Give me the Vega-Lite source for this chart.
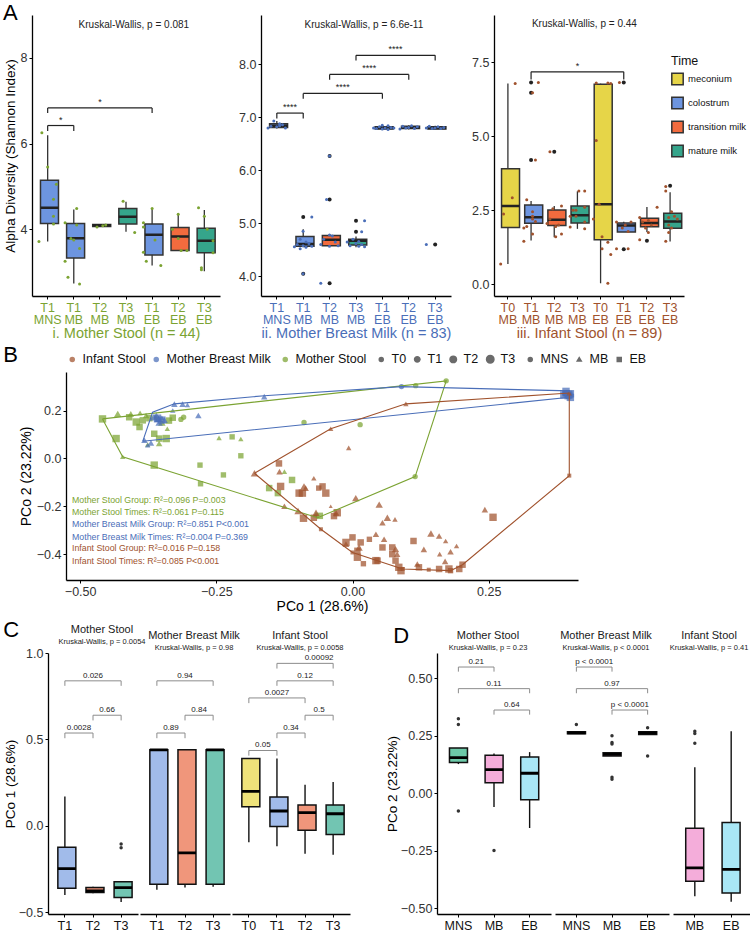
{
"$schema": "https://vega.github.io/schema/vega-lite/v6.json",
"padding": {"left": 2, "top": 2, "right": 0, "bottom": 0},
"background": "white",
"columns": 1,
"spacing": 4,
"resolve": {"scale": {"fill": "independent", "color": "independent", "shape": "independent", "size": "independent"}, "legend": {"color": "independent", "shape": "independent", "size": "independent", "fill": "independent"}},
"config": {
  "font": "Liberation Sans",
  "view": {"stroke": null},
  "axis": {"grid": false, "domainColor": "#000", "domainWidth": 1.3, "tickColor": "#000", "tickSize": 3, "labelColor": "#333", "labelFontSize": 12.5, "titleFontSize": 13.5, "titleFontWeight": "normal", "titleColor": "#000", "labelPadding": 2, "titlePadding": 3, "labelFlush": false},
  "title": {"fontSize": 11, "fontWeight": "normal", "subtitleFontSize": 7.5, "subtitlePadding": 0, "offset": 2, "color": "#1a1a1a", "subtitleColor": "#1a1a1a", "font": "Liberation Sans", "subtitleFont": "Liberation Sans"},
  "legend": {"labelFont": "Liberation Sans", "titleFont": "Liberation Sans"}
},
"datasets": {
  "abox": [
    {"p":"A1","cat":"T1 MNS","time":"colostrum","lo":3.71,"q1":4.13,"med":4.5,"q3":5.14,"hi":6.19},
    {"p":"A1","cat":"T1 MB","time":"colostrum","lo":2.73,"q1":3.33,"med":3.79,"q3":4.13,"hi":4.46},
    {"p":"A1","cat":"T2 MB","time":"transition milk","lo":4.05,"q1":4.06,"med":4.09,"q3":4.11,"hi":4.12},
    {"p":"A1","cat":"T3 MB","time":"mature milk","lo":3.94,"q1":4.12,"med":4.29,"q3":4.48,"hi":4.64},
    {"p":"A1","cat":"T1 EB","time":"colostrum","lo":3.15,"q1":3.4,"med":3.87,"q3":4.12,"hi":4.48},
    {"p":"A1","cat":"T2 EB","time":"transition milk","lo":3.5,"q1":3.5,"med":3.83,"q3":4.04,"hi":4.37},
    {"p":"A1","cat":"T3 EB","time":"mature milk","lo":3.02,"q1":3.45,"med":3.73,"q3":4.02,"hi":4.45},
    {"p":"A2","cat":"T1 MNS","time":"colostrum","lo":6.79,"q1":6.81,"med":6.84,"q3":6.88,"hi":6.93},
    {"p":"A2","cat":"T1 MB","time":"colostrum","lo":4.55,"q1":4.57,"med":4.61,"q3":4.75,"hi":4.89},
    {"p":"A2","cat":"T2 MB","time":"transition milk","lo":4.57,"q1":4.58,"med":4.69,"q3":4.77,"hi":4.8},
    {"p":"A2","cat":"T3 MB","time":"mature milk","lo":4.55,"q1":4.59,"med":4.67,"q3":4.7,"hi":4.75},
    {"p":"A2","cat":"T1 EB","time":"colostrum","lo":6.76,"q1":6.78,"med":6.8,"q3":6.82,"hi":6.85},
    {"p":"A2","cat":"T2 EB","time":"transition milk","lo":6.77,"q1":6.79,"med":6.81,"q3":6.83,"hi":6.85},
    {"p":"A2","cat":"T3 EB","time":"mature milk","lo":6.77,"q1":6.78,"med":6.8,"q3":6.82,"hi":6.84},
    {"p":"A3","cat":"T0 MB","time":"meconium","lo":0.68,"q1":1.92,"med":2.64,"q3":3.9,"hi":6.78},
    {"p":"A3","cat":"T1 MB","time":"colostrum","lo":1.48,"q1":2.06,"med":2.26,"q3":2.68,"hi":2.81},
    {"p":"A3","cat":"T2 MB","time":"transition milk","lo":1.59,"q1":1.98,"med":2.18,"q3":2.51,"hi":2.64},
    {"p":"A3","cat":"T3 MB","time":"mature milk","lo":1.87,"q1":2.07,"med":2.33,"q3":2.64,"hi":3.14},
    {"p":"A3","cat":"T0 EB","time":"meconium","lo":0.03,"q1":1.5,"med":2.7,"q3":6.76,"hi":6.78},
    {"p":"A3","cat":"T1 EB","time":"colostrum","lo":1.76,"q1":1.76,"med":1.98,"q3":2.07,"hi":2.11},
    {"p":"A3","cat":"T2 EB","time":"transition milk","lo":1.76,"q1":1.94,"med":2.07,"q3":2.23,"hi":2.61},
    {"p":"A3","cat":"T3 EB","time":"mature milk","lo":1.44,"q1":1.89,"med":2.12,"q3":2.4,"hi":3.11}
  ],
  "aout": [
    {"p":"A2","cat":"T1 MB","v":5.12},{"p":"A2","cat":"T1 MB","v":4.05},{"p":"A2","cat":"T2 MB","v":6.27},{"p":"A2","cat":"T2 MB","v":5.45},{"p":"A2","cat":"T2 MB","v":3.87},{"p":"A2","cat":"T3 MB","v":5.05},{"p":"A2","cat":"T3 MB","v":4.84},{"p":"A2","cat":"T3 EB","v":4.6},
    {"p":"A3","cat":"T1 MB","v":6.82},{"p":"A3","cat":"T1 MB","v":6.47},{"p":"A3","cat":"T1 MB","v":4.2},{"p":"A3","cat":"T2 MB","v":4.48},{"p":"A3","cat":"T1 EB","v":6.82},{"p":"A3","cat":"T1 EB","v":1.18},{"p":"A3","cat":"T2 EB","v":1.47},{"p":"A3","cat":"T3 EB","v":3.33}
  ],
  "ajit": [
    {"p":"A1","cat":"T1 MNS","v":6.25,"j":-2},{"p":"A1","cat":"T1 MNS","v":5.45,"j":0},{"p":"A1","cat":"T1 MNS","v":5.05,"j":3},{"p":"A1","cat":"T1 MNS","v":4.7,"j":2},{"p":"A1","cat":"T1 MNS","v":4.3,"j":2},{"p":"A1","cat":"T1 MNS","v":4.12,"j":2},{"p":"A1","cat":"T1 MNS","v":3.71,"j":-3},
    {"p":"A1","cat":"T1 MB","v":4.48,"j":1},{"p":"A1","cat":"T1 MB","v":4.15,"j":-3},{"p":"A1","cat":"T1 MB","v":4.1,"j":1},{"p":"A1","cat":"T1 MB","v":3.78,"j":-1},{"p":"A1","cat":"T1 MB","v":3.75,"j":0},{"p":"A1","cat":"T1 MB","v":3.55,"j":2},{"p":"A1","cat":"T1 MB","v":3.25,"j":-3},{"p":"A1","cat":"T1 MB","v":2.88,"j":-2},{"p":"A1","cat":"T1 MB","v":2.72,"j":2},
    {"p":"A1","cat":"T2 MB","v":4.05,"j":-1},{"p":"A1","cat":"T2 MB","v":4.08,"j":1},{"p":"A1","cat":"T2 MB","v":4.1,"j":2},
    {"p":"A1","cat":"T3 MB","v":4.65,"j":-1},{"p":"A1","cat":"T3 MB","v":3.92,"j":3},
    {"p":"A1","cat":"T1 EB","v":4.48,"j":0},{"p":"A1","cat":"T1 EB","v":4.15,"j":-3},{"p":"A1","cat":"T1 EB","v":4.05,"j":-3},{"p":"A1","cat":"T1 EB","v":3.75,"j":1},{"p":"A1","cat":"T1 EB","v":3.46,"j":-3},{"p":"A1","cat":"T1 EB","v":3.25,"j":-2},{"p":"A1","cat":"T1 EB","v":3.15,"j":3},
    {"p":"A1","cat":"T2 EB","v":4.35,"j":0},{"p":"A1","cat":"T2 EB","v":4.0,"j":-2},{"p":"A1","cat":"T2 EB","v":3.78,"j":0},{"p":"A1","cat":"T2 EB","v":3.5,"j":1},{"p":"A1","cat":"T2 EB","v":3.5,"j":3},
    {"p":"A1","cat":"T3 EB","v":4.5,"j":-2},{"p":"A1","cat":"T3 EB","v":4.3,"j":0},{"p":"A1","cat":"T3 EB","v":4.0,"j":1},{"p":"A1","cat":"T3 EB","v":3.73,"j":3},{"p":"A1","cat":"T3 EB","v":3.45,"j":3},{"p":"A1","cat":"T3 EB","v":3.1,"j":-1},{"p":"A1","cat":"T3 EB","v":3.05,"j":-1},
    {"p":"A2","cat":"T1 MNS","v":6.93,"j":-1},{"p":"A2","cat":"T1 MNS","v":6.88,"j":1},{"p":"A2","cat":"T1 MNS","v":6.86,"j":2},{"p":"A2","cat":"T1 MNS","v":6.83,"j":-2},{"p":"A2","cat":"T1 MNS","v":6.82,"j":0},{"p":"A2","cat":"T1 MNS","v":6.8,"j":3},{"p":"A2","cat":"T1 MNS","v":6.8,"j":-3},{"p":"A2","cat":"T1 MNS","v":6.84,"j":1},
    {"p":"A2","cat":"T1 MB","v":5.12,"j":3},{"p":"A2","cat":"T1 MB","v":4.85,"j":0},{"p":"A2","cat":"T1 MB","v":4.7,"j":-1},{"p":"A2","cat":"T1 MB","v":4.65,"j":1},{"p":"A2","cat":"T1 MB","v":4.62,"j":2},{"p":"A2","cat":"T1 MB","v":4.6,"j":-2},{"p":"A2","cat":"T1 MB","v":4.58,"j":0},{"p":"A2","cat":"T1 MB","v":4.57,"j":3},{"p":"A2","cat":"T1 MB","v":4.56,"j":-3},{"p":"A2","cat":"T1 MB","v":4.55,"j":1},{"p":"A2","cat":"T1 MB","v":4.52,"j":-1},{"p":"A2","cat":"T1 MB","v":4.05,"j":0},
    {"p":"A2","cat":"T2 MB","v":6.27,"j":0},{"p":"A2","cat":"T2 MB","v":5.45,"j":-1},{"p":"A2","cat":"T2 MB","v":4.78,"j":0},{"p":"A2","cat":"T2 MB","v":4.76,"j":1},{"p":"A2","cat":"T2 MB","v":4.7,"j":-2},{"p":"A2","cat":"T2 MB","v":4.65,"j":2},{"p":"A2","cat":"T2 MB","v":4.6,"j":-3},{"p":"A2","cat":"T2 MB","v":4.58,"j":3},{"p":"A2","cat":"T2 MB","v":4.57,"j":0},{"p":"A2","cat":"T2 MB","v":3.87,"j":-3},
    {"p":"A2","cat":"T3 MB","v":5.05,"j":3},{"p":"A2","cat":"T3 MB","v":4.84,"j":2},{"p":"A2","cat":"T3 MB","v":4.7,"j":-1},{"p":"A2","cat":"T3 MB","v":4.66,"j":1},{"p":"A2","cat":"T3 MB","v":4.65,"j":-3},{"p":"A2","cat":"T3 MB","v":4.62,"j":0},{"p":"A2","cat":"T3 MB","v":4.6,"j":2},{"p":"A2","cat":"T3 MB","v":4.58,"j":-2},{"p":"A2","cat":"T3 MB","v":4.57,"j":1},{"p":"A2","cat":"T3 MB","v":4.56,"j":3},
    {"p":"A2","cat":"T1 EB","v":6.85,"j":0},{"p":"A2","cat":"T1 EB","v":6.84,"j":2},{"p":"A2","cat":"T1 EB","v":6.82,"j":-1},{"p":"A2","cat":"T1 EB","v":6.81,"j":3},{"p":"A2","cat":"T1 EB","v":6.8,"j":-3},{"p":"A2","cat":"T1 EB","v":6.8,"j":1},{"p":"A2","cat":"T1 EB","v":6.79,"j":-2},{"p":"A2","cat":"T1 EB","v":6.78,"j":0},{"p":"A2","cat":"T1 EB","v":6.77,"j":2},{"p":"A2","cat":"T1 EB","v":6.8,"j":4},
    {"p":"A2","cat":"T2 EB","v":6.84,"j":1},{"p":"A2","cat":"T2 EB","v":6.83,"j":-2},{"p":"A2","cat":"T2 EB","v":6.82,"j":3},{"p":"A2","cat":"T2 EB","v":6.81,"j":0},{"p":"A2","cat":"T2 EB","v":6.8,"j":-1},{"p":"A2","cat":"T2 EB","v":6.79,"j":2},{"p":"A2","cat":"T2 EB","v":6.78,"j":-3},
    {"p":"A2","cat":"T3 EB","v":6.83,"j":-2},{"p":"A2","cat":"T3 EB","v":6.82,"j":1},{"p":"A2","cat":"T3 EB","v":6.81,"j":3},{"p":"A2","cat":"T3 EB","v":6.8,"j":0},{"p":"A2","cat":"T3 EB","v":6.8,"j":-3},{"p":"A2","cat":"T3 EB","v":6.79,"j":2},{"p":"A2","cat":"T3 EB","v":6.79,"j":-1},{"p":"A2","cat":"T3 EB","v":4.6,"j":-3},
    {"p":"A3","cat":"T0 MB","v":6.78,"j":2},{"p":"A3","cat":"T0 MB","v":2.92,"j":1},{"p":"A3","cat":"T0 MB","v":2.37,"j":-2},{"p":"A3","cat":"T0 MB","v":0.68,"j":-3},
    {"p":"A3","cat":"T1 MB","v":6.82,"j":2},{"p":"A3","cat":"T1 MB","v":6.47,"j":0},{"p":"A3","cat":"T1 MB","v":4.2,"j":1},{"p":"A3","cat":"T1 MB","v":2.85,"j":-2},{"p":"A3","cat":"T1 MB","v":2.45,"j":0},{"p":"A3","cat":"T1 MB","v":2.3,"j":0},{"p":"A3","cat":"T1 MB","v":2.2,"j":0},{"p":"A3","cat":"T1 MB","v":2.12,"j":1},{"p":"A3","cat":"T1 MB","v":1.95,"j":-2},{"p":"A3","cat":"T1 MB","v":1.9,"j":-3},{"p":"A3","cat":"T1 MB","v":1.7,"j":0},{"p":"A3","cat":"T1 MB","v":1.45,"j":-3},
    {"p":"A3","cat":"T2 MB","v":4.48,"j":-2},{"p":"A3","cat":"T2 MB","v":2.64,"j":2},{"p":"A3","cat":"T2 MB","v":2.55,"j":-1},{"p":"A3","cat":"T2 MB","v":2.2,"j":-2},{"p":"A3","cat":"T2 MB","v":2.05,"j":-3},{"p":"A3","cat":"T2 MB","v":2.0,"j":1},{"p":"A3","cat":"T2 MB","v":1.95,"j":0},{"p":"A3","cat":"T2 MB","v":1.7,"j":2},{"p":"A3","cat":"T2 MB","v":1.6,"j":0},
    {"p":"A3","cat":"T3 MB","v":3.15,"j":0},{"p":"A3","cat":"T3 MB","v":3.15,"j":2},{"p":"A3","cat":"T3 MB","v":2.6,"j":2},{"p":"A3","cat":"T3 MB","v":2.5,"j":-2},{"p":"A3","cat":"T3 MB","v":2.5,"j":-1},{"p":"A3","cat":"T3 MB","v":2.3,"j":-1},{"p":"A3","cat":"T3 MB","v":2.3,"j":-3},{"p":"A3","cat":"T3 MB","v":2.1,"j":2},{"p":"A3","cat":"T3 MB","v":1.93,"j":-3},{"p":"A3","cat":"T3 MB","v":1.87,"j":2},
    {"p":"A3","cat":"T0 EB","v":6.8,"j":-2},{"p":"A3","cat":"T0 EB","v":6.8,"j":2},{"p":"A3","cat":"T0 EB","v":6.78,"j":3},{"p":"A3","cat":"T0 EB","v":4.86,"j":-2},{"p":"A3","cat":"T0 EB","v":2.7,"j":-1},{"p":"A3","cat":"T0 EB","v":2.2,"j":-3},{"p":"A3","cat":"T0 EB","v":1.6,"j":0},{"p":"A3","cat":"T0 EB","v":1.42,"j":2},{"p":"A3","cat":"T0 EB","v":1.2,"j":0},{"p":"A3","cat":"T0 EB","v":1.0,"j":3},{"p":"A3","cat":"T0 EB","v":0.03,"j":2},
    {"p":"A3","cat":"T1 EB","v":6.82,"j":-2},{"p":"A3","cat":"T1 EB","v":2.1,"j":-3},{"p":"A3","cat":"T1 EB","v":2.1,"j":2},{"p":"A3","cat":"T1 EB","v":2.0,"j":0},{"p":"A3","cat":"T1 EB","v":1.9,"j":-1},{"p":"A3","cat":"T1 EB","v":1.78,"j":1},{"p":"A3","cat":"T1 EB","v":1.2,"j":-3},{"p":"A3","cat":"T1 EB","v":1.2,"j":1},
    {"p":"A3","cat":"T2 EB","v":2.6,"j":3},{"p":"A3","cat":"T2 EB","v":2.25,"j":-3},{"p":"A3","cat":"T2 EB","v":2.15,"j":0},{"p":"A3","cat":"T2 EB","v":2.1,"j":-2},{"p":"A3","cat":"T2 EB","v":2.0,"j":1},{"p":"A3","cat":"T2 EB","v":1.9,"j":-1},{"p":"A3","cat":"T2 EB","v":1.75,"j":0},{"p":"A3","cat":"T2 EB","v":1.5,"j":-3},
    {"p":"A3","cat":"T3 EB","v":3.3,"j":-2},{"p":"A3","cat":"T3 EB","v":3.15,"j":-2},{"p":"A3","cat":"T3 EB","v":2.45,"j":0},{"p":"A3","cat":"T3 EB","v":2.3,"j":1},{"p":"A3","cat":"T3 EB","v":2.25,"j":-1},{"p":"A3","cat":"T3 EB","v":2.2,"j":2},{"p":"A3","cat":"T3 EB","v":2.0,"j":-1},{"p":"A3","cat":"T3 EB","v":1.9,"j":0},{"p":"A3","cat":"T3 EB","v":1.75,"j":-1},{"p":"A3","cat":"T3 EB","v":1.45,"j":-2}
  ],
  "abr": [
    {"p":"A1","from":"T1 MNS","to":"T1 EB","y":6.83,"yb":6.71,"mid":"T2 MB","half":false,"lab":"*"},
    {"p":"A1","from":"T1 MNS","to":"T1 MB","y":6.42,"yb":6.29,"mid":"T1 MNS","half":true,"lab":"*"},
    {"p":"A2","from":"T1 MNS","to":"T1 MB","y":7.08,"yb":6.98,"mid":"T1 MNS","half":true,"lab":"****"},
    {"p":"A2","from":"T1 MB","to":"T1 EB","y":7.45,"yb":7.35,"mid":"T2 MB","half":true,"lab":"****"},
    {"p":"A2","from":"T2 MB","to":"T2 EB","y":7.81,"yb":7.71,"mid":"T3 MB","half":true,"lab":"****"},
    {"p":"A2","from":"T3 MB","to":"T3 EB","y":8.17,"yb":8.07,"mid":"T1 EB","half":true,"lab":"****"},
    {"p":"A3","from":"T1 MB","to":"T1 EB","y":7.18,"yb":6.92,"mid":"T3 MB","half":false,"lab":"*"}
  ],
  "akw": [
    {"p":"A1","cat":"T3 MB","y":8.76,"lab":"Kruskal-Wallis, p = 0.081"},
    {"p":"A2","cat":"T3 MB","y":8.74,"lab":"Kruskal-Wallis, p = 6.6e-11"},
    {"p":"A3","cat":"T3 MB","y":8.78,"lab":"Kruskal-Wallis, p = 0.44"}
  ],
  "hull": [
    {"g":"Mother Stool","o":0,"x":-0.459,"y":0.165},{"g":"Mother Stool","o":1,"x":0.172,"y":0.324},{"g":"Mother Stool","o":2,"x":0.115,"y":-0.076},{"g":"Mother Stool","o":3,"x":-0.064,"y":-0.248},{"g":"Mother Stool","o":4,"x":-0.422,"y":0.007},{"g":"Mother Stool","o":5,"x":-0.459,"y":0.165},
    {"g":"Mother Breast  Milk","o":0,"x":-0.385,"y":0.072},{"g":"Mother Breast  Milk","o":1,"x":-0.367,"y":0.193},{"g":"Mother Breast  Milk","o":2,"x":-0.327,"y":0.228},{"g":"Mother Breast  Milk","o":3,"x":-0.162,"y":0.262},{"g":"Mother Breast  Milk","o":4,"x":0.09,"y":0.3},{"g":"Mother Breast  Milk","o":5,"x":0.398,"y":0.282},{"g":"Mother Breast  Milk","o":6,"x":0.398,"y":0.255},{"g":"Mother Breast  Milk","o":7,"x":-0.385,"y":0.072},
    {"g":"Infant Stool","o":0,"x":-0.18,"y":-0.062},{"g":"Infant Stool","o":1,"x":-0.04,"y":0.124},{"g":"Infant Stool","o":2,"x":0.098,"y":0.228},{"g":"Infant Stool","o":3,"x":0.398,"y":0.273},{"g":"Infant Stool","o":4,"x":0.398,"y":-0.072},{"g":"Infant Stool","o":5,"x":0.202,"y":-0.444},{"g":"Infant Stool","o":6,"x":0.18,"y":-0.469},{"g":"Infant Stool","o":7,"x":0.092,"y":-0.462},{"g":"Infant Stool","o":8,"x":0.0,"y":-0.393},{"g":"Infant Stool","o":9,"x":-0.058,"y":-0.296},{"g":"Infant Stool","o":10,"x":-0.18,"y":-0.062}
  ],
  "pts": [
    {"g":"Mother Stool","s":"MNS","t":"T1","x":-0.315,"y":0.163},{"g":"Mother Stool","s":"MNS","t":"T1","x":-0.31,"y":0.172},{"g":"Mother Stool","s":"MNS","t":"T1","x":-0.089,"y":0.15},{"g":"Mother Stool","s":"MNS","t":"T1","x":0.014,"y":0.141},{"g":"Mother Stool","s":"MNS","t":"T1","x":0.115,"y":-0.076},{"g":"Mother Stool","s":"MNS","t":"T1","x":0.172,"y":0.324},{"g":"Mother Stool","s":"MNS","t":"T1","x":0.116,"y":0.304},
    {"g":"Mother Stool","s":"MB","t":"T3","x":-0.431,"y":0.186},{"g":"Mother Stool","s":"MB","t":"T2","x":-0.407,"y":0.186},{"g":"Mother Stool","s":"MB","t":"T2","x":-0.379,"y":0.179},{"g":"Mother Stool","s":"MB","t":"T1","x":-0.361,"y":0.172},{"g":"Mother Stool","s":"MB","t":"T1","x":-0.34,"y":0.124},{"g":"Mother Stool","s":"MB","t":"T2","x":-0.355,"y":0.062},{"g":"Mother Stool","s":"MB","t":"T1","x":-0.376,"y":0.058},{"g":"Mother Stool","s":"MB","t":"T1","x":-0.422,"y":0.007},{"g":"Mother Stool","s":"MB","t":"T1","x":-0.245,"y":0.086},{"g":"Mother Stool","s":"MB","t":"T1","x":-0.205,"y":0.081},{"g":"Mother Stool","s":"MB","t":"T1","x":-0.125,"y":-0.055},{"g":"Mother Stool","s":"MB","t":"T2","x":-0.067,"y":-0.234},{"g":"Mother Stool","s":"MB","t":"T1","x":-0.39,"y":0.19},{"g":"Mother Stool","s":"MB","t":"T3","x":-0.35,"y":0.15},
    {"g":"Mother Stool","s":"EB","t":"T3","x":-0.459,"y":0.165},{"g":"Mother Stool","s":"EB","t":"T3","x":-0.434,"y":0.083},{"g":"Mother Stool","s":"EB","t":"T2","x":-0.41,"y":0.172},{"g":"Mother Stool","s":"EB","t":"T3","x":-0.397,"y":0.152},{"g":"Mother Stool","s":"EB","t":"T2","x":-0.385,"y":0.159},{"g":"Mother Stool","s":"EB","t":"T2","x":-0.373,"y":0.168},{"g":"Mother Stool","s":"EB","t":"T2","x":-0.391,"y":0.131},{"g":"Mother Stool","s":"EB","t":"T2","x":-0.364,"y":0.103},{"g":"Mother Stool","s":"EB","t":"T3","x":-0.342,"y":0.083},{"g":"Mother Stool","s":"EB","t":"T2","x":-0.355,"y":0.083},{"g":"Mother Stool","s":"EB","t":"T2","x":-0.337,"y":0.158},{"g":"Mother Stool","s":"EB","t":"T2","x":-0.33,"y":0.17},{"g":"Mother Stool","s":"EB","t":"T3","x":-0.364,"y":-0.028},{"g":"Mother Stool","s":"EB","t":"T1","x":-0.221,"y":0.09},{"g":"Mother Stool","s":"EB","t":"T1","x":-0.205,"y":0.011},{"g":"Mother Stool","s":"EB","t":"T1","x":-0.28,"y":-0.028},{"g":"Mother Stool","s":"EB","t":"T1","x":-0.237,"y":-0.069},{"g":"Mother Stool","s":"EB","t":"T1","x":-0.279,"y":-0.106},{"g":"Mother Stool","s":"EB","t":"T2","x":-0.111,"y":-0.09},{"g":"Mother Stool","s":"EB","t":"T2","x":-0.153,"y":-0.124},{"g":"Mother Stool","s":"EB","t":"T2","x":-0.137,"y":-0.145},{"g":"Mother Stool","s":"EB","t":"T2","x":-0.06,"y":-0.24},
    {"g":"Mother Breast  Milk","s":"MB","t":"T2","x":-0.327,"y":0.227},{"g":"Mother Breast  Milk","s":"MB","t":"T2","x":-0.312,"y":0.227},{"g":"Mother Breast  Milk","s":"MB","t":"T1","x":-0.303,"y":0.223},{"g":"Mother Breast  Milk","s":"MB","t":"T2","x":-0.162,"y":0.258},{"g":"Mother Breast  Milk","s":"MB","t":"T2","x":-0.283,"y":0.179},{"g":"Mother Breast  Milk","s":"MB","t":"T3","x":-0.365,"y":0.172},{"g":"Mother Breast  Milk","s":"MB","t":"T3","x":-0.356,"y":0.165},{"g":"Mother Breast  Milk","s":"MB","t":"T2","x":-0.36,"y":0.18},{"g":"Mother Breast  Milk","s":"MB","t":"T1","x":-0.35,"y":0.17},{"g":"Mother Breast  Milk","s":"MB","t":"T2","x":-0.382,"y":0.076},{"g":"Mother Breast  Milk","s":"MB","t":"T1","x":-0.376,"y":0.055},{"g":"Mother Breast  Milk","s":"MB","t":"T2","x":-0.37,"y":0.065},{"g":"Mother Breast  Milk","s":"MB","t":"T2","x":-0.345,"y":0.16},{"g":"Mother Breast  Milk","s":"MB","t":"T3","x":-0.355,"y":0.15},{"g":"Mother Breast  Milk","s":"MB","t":"T1","x":-0.36,"y":0.16},{"g":"Mother Breast  Milk","s":"MB","t":"T1","x":-0.33,"y":0.2},
    {"g":"Mother Breast  Milk","s":"EB","t":"T3","x":-0.358,"y":0.168},{"g":"Mother Breast  Milk","s":"EB","t":"T3","x":-0.35,"y":0.16},{"g":"Mother Breast  Milk","s":"EB","t":"T1","x":0.39,"y":0.27},{"g":"Mother Breast  Milk","s":"EB","t":"T2","x":0.395,"y":0.26},{"g":"Mother Breast  Milk","s":"EB","t":"T3","x":0.4,"y":0.27},{"g":"Mother Breast  Milk","s":"EB","t":"T3","x":0.392,"y":0.28},{"g":"Mother Breast  Milk","s":"EB","t":"T2","x":0.398,"y":0.262},{"g":"Mother Breast  Milk","s":"EB","t":"T3","x":0.388,"y":0.265},{"g":"Mother Breast  Milk","s":"EB","t":"T3","x":0.4,"y":0.255},{"g":"Mother Breast  Milk","s":"EB","t":"T2","x":0.393,"y":0.272},{"g":"Mother Breast  Milk","s":"EB","t":"T3","x":0.397,"y":0.268},
    {"g":"Mother Breast  Milk","s":"MNS","t":"T1","x":0.09,"y":0.3},{"g":"Mother Breast  Milk","s":"MNS","t":"T1","x":0.392,"y":0.27},{"g":"Mother Breast  Milk","s":"MNS","t":"T1","x":0.398,"y":0.265},{"g":"Mother Breast  Milk","s":"MNS","t":"T1","x":0.395,"y":0.275},
    {"g":"Infant Stool","s":"MB","t":"T3","x":-0.18,"y":-0.062},{"g":"Infant Stool","s":"MB","t":"T1","x":-0.04,"y":0.124},{"g":"Infant Stool","s":"MB","t":"T1","x":0.098,"y":0.228},{"g":"Infant Stool","s":"MB","t":"T1","x":-0.007,"y":0.044},{"g":"Infant Stool","s":"MB","t":"T2","x":0.243,"y":-0.214},{"g":"Infant Stool","s":"MB","t":"T3","x":0.144,"y":-0.314},{"g":"Infant Stool","s":"MB","t":"T2","x":0.159,"y":-0.324},{"g":"Infant Stool","s":"MB","t":"T1","x":0.171,"y":-0.345},{"g":"Infant Stool","s":"MB","t":"T1","x":0.191,"y":-0.366},{"g":"Infant Stool","s":"MB","t":"T2","x":0.131,"y":-0.38},{"g":"Infant Stool","s":"MB","t":"T2","x":0.119,"y":-0.441},{"g":"Infant Stool","s":"MB","t":"T3","x":0.064,"y":-0.248},{"g":"Infant Stool","s":"MB","t":"T3","x":0.049,"y":-0.193},{"g":"Infant Stool","s":"MB","t":"T1","x":0.078,"y":-0.255},{"g":"Infant Stool","s":"MB","t":"T2","x":0.055,"y":-0.269},{"g":"Infant Stool","s":"MB","t":"T2","x":0.043,"y":-0.317},{"g":"Infant Stool","s":"MB","t":"T2","x":0.058,"y":-0.338},{"g":"Infant Stool","s":"MB","t":"T3","x":0.079,"y":-0.379},{"g":"Infant Stool","s":"MB","t":"T2","x":0.082,"y":-0.4},{"g":"Infant Stool","s":"MB","t":"T3","x":0.006,"y":-0.166},{"g":"Infant Stool","s":"MB","t":"T3","x":-0.067,"y":-0.227},{"g":"Infant Stool","s":"MB","t":"T1","x":-0.071,"y":-0.083},{"g":"Infant Stool","s":"MB","t":"T2","x":-0.086,"y":-0.124},{"g":"Infant Stool","s":"MB","t":"T2","x":-0.134,"y":-0.055},{"g":"Infant Stool","s":"MB","t":"T3","x":-0.089,"y":-0.117},{"g":"Infant Stool","s":"MB","t":"T2","x":-0.012,"y":-0.358},{"g":"Infant Stool","s":"MB","t":"T3","x":0.012,"y":-0.372},{"g":"Infant Stool","s":"MB","t":"T2","x":-0.03,"y":-0.228},{"g":"Infant Stool","s":"MB","t":"T2","x":0.17,"y":-0.43},{"g":"Infant Stool","s":"MB","t":"T1","x":0.16,"y":-0.4},{"g":"Infant Stool","s":"MB","t":"T2","x":0.18,"y":-0.39},{"g":"Infant Stool","s":"MB","t":"T2","x":-0.125,"y":-0.2},{"g":"Infant Stool","s":"MB","t":"T3","x":-0.1,"y":-0.22},{"g":"Infant Stool","s":"MB","t":"T1","x":0.398,"y":0.273},{"g":"Infant Stool","s":"MB","t":"T0","x":-0.04,"y":-0.2},
    {"g":"Infant Stool","s":"EB","t":"T2","x":-0.135,"y":-0.021},{"g":"Infant Stool","s":"EB","t":"T3","x":0.258,"y":-0.246},{"g":"Infant Stool","s":"EB","t":"T2","x":0.112,"y":-0.345},{"g":"Infant Stool","s":"EB","t":"T3","x":0.177,"y":-0.462},{"g":"Infant Stool","s":"EB","t":"T2","x":0.196,"y":-0.462},{"g":"Infant Stool","s":"EB","t":"T2","x":0.159,"y":-0.462},{"g":"Infant Stool","s":"EB","t":"T3","x":0.089,"y":-0.469},{"g":"Infant Stool","s":"EB","t":"T2","x":0.122,"y":-0.455},{"g":"Infant Stool","s":"EB","t":"T2","x":0.046,"y":-0.427},{"g":"Infant Stool","s":"EB","t":"T2","x":0.073,"y":-0.4},{"g":"Infant Stool","s":"EB","t":"T3","x":0.009,"y":-0.413},{"g":"Infant Stool","s":"EB","t":"T2","x":0.0,"y":-0.33},{"g":"Infant Stool","s":"EB","t":"T2","x":0.015,"y":-0.351},{"g":"Infant Stool","s":"EB","t":"T3","x":-0.012,"y":-0.351},{"g":"Infant Stool","s":"EB","t":"T2","x":0.009,"y":-0.386},{"g":"Infant Stool","s":"EB","t":"T2","x":-0.034,"y":-0.241},{"g":"Infant Stool","s":"EB","t":"T3","x":-0.028,"y":-0.227},{"g":"Infant Stool","s":"EB","t":"T2","x":-0.071,"y":-0.248},{"g":"Infant Stool","s":"EB","t":"T3","x":-0.092,"y":-0.145},{"g":"Infant Stool","s":"EB","t":"T3","x":-0.049,"y":-0.145},{"g":"Infant Stool","s":"EB","t":"T2","x":-0.055,"y":-0.117},{"g":"Infant Stool","s":"EB","t":"T3","x":-0.132,"y":-0.117},{"g":"Infant Stool","s":"EB","t":"T3","x":-0.098,"y":-0.145},{"g":"Infant Stool","s":"EB","t":"T1","x":-0.062,"y":-0.124},{"g":"Infant Stool","s":"EB","t":"T3","x":0.043,"y":-0.427},{"g":"Infant Stool","s":"EB","t":"T2","x":0.079,"y":-0.427},{"g":"Infant Stool","s":"EB","t":"T3","x":0.085,"y":-0.455},{"g":"Infant Stool","s":"EB","t":"T1","x":0.031,"y":-0.338},{"g":"Infant Stool","s":"EB","t":"T2","x":0.055,"y":-0.372},{"g":"Infant Stool","s":"EB","t":"T2","x":0.073,"y":-0.372},{"g":"Infant Stool","s":"EB","t":"T3","x":-0.09,"y":-0.25},{"g":"Infant Stool","s":"EB","t":"T1","x":0.02,"y":-0.44},{"g":"Infant Stool","s":"EB","t":"T0","x":0.398,"y":-0.072},{"g":"Infant Stool","s":"EB","t":"T0","x":0.14,"y":-0.465},{"g":"Infant Stool","s":"EB","t":"T0","x":0.0,"y":-0.393},{"g":"Infant Stool","s":"EB","t":"T0","x":-0.058,"y":-0.296},{"g":"Infant Stool","s":"EB","t":"T0","x":0.092,"y":-0.462},{"g":"Infant Stool","s":"EB","t":"T2","x":0.202,"y":-0.444},{"g":"Infant Stool","s":"EB","t":"T1","x":0.18,"y":-0.469}
  ],
  "ann": [
    {"g":"Mother Stool","x":-0.515,"y":-0.172,"lab":"Mother Stool Group: R²=0.096 P=0.003"},
    {"g":"Mother Stool","x":-0.515,"y":-0.225,"lab":"Mother Stool Times: R²=0.061 P=0.115"},
    {"g":"Mother Breast  Milk","x":-0.515,"y":-0.276,"lab":"Mother Breast Milk Group: R²=0.851 P<0.001"},
    {"g":"Mother Breast  Milk","x":-0.515,"y":-0.327,"lab":"Mother Breast Milk Times: R²=0.004 P=0.369"},
    {"g":"Infant Stool","x":-0.515,"y":-0.376,"lab":"Infant Stool Group: R²=0.016 P=0.158"},
    {"g":"Infant Stool","x":-0.515,"y":-0.427,"lab":"Infant Stool Times: R²=0.085 P<0.001"}
  ],
  "cdbox": [
    {"p":"C1","cat":"T1","lo":-0.4,"q1":-0.361,"med":-0.247,"q3":-0.124,"hi":0.17},
    {"p":"C1","cat":"T2","lo":-0.39,"q1":-0.386,"med":-0.376,"q3":-0.357,"hi":-0.352},
    {"p":"C1","cat":"T3","lo":-0.44,"q1":-0.414,"med":-0.357,"q3":-0.323,"hi":-0.323},
    {"p":"C2","cat":"T1","lo":-0.37,"q1":-0.338,"med":0.44,"q3":0.44,"hi":0.44},
    {"p":"C2","cat":"T2","lo":-0.357,"q1":-0.338,"med":-0.156,"q3":0.44,"hi":0.44},
    {"p":"C2","cat":"T3","lo":-0.352,"q1":-0.338,"med":0.44,"q3":0.44,"hi":0.44},
    {"p":"C3","cat":"T0","lo":-0.095,"q1":0.11,"med":0.2,"q3":0.39,"hi":0.39},
    {"p":"C3","cat":"T1","lo":-0.118,"q1":-0.004,"med":0.086,"q3":0.167,"hi":0.39},
    {"p":"C3","cat":"T2","lo":-0.162,"q1":-0.025,"med":0.076,"q3":0.12,"hi":0.238},
    {"p":"C3","cat":"T3","lo":-0.167,"q1":-0.05,"med":0.07,"q3":0.12,"hi":0.253},
    {"p":"D1","cat":"MNS","lo":0.127,"q1":0.134,"med":0.155,"q3":0.197,"hi":0.197},
    {"p":"D1","cat":"MB","lo":-0.06,"q1":0.046,"med":0.103,"q3":0.165,"hi":0.173},
    {"p":"D1","cat":"EB","lo":-0.151,"q1":-0.028,"med":0.087,"q3":0.158,"hi":0.179},
    {"p":"D2","cat":"MNS","lo":0.259,"q1":0.259,"med":0.263,"q3":0.268,"hi":0.268},
    {"p":"D2","cat":"MB","lo":0.162,"q1":0.162,"med":0.169,"q3":0.176,"hi":0.176},
    {"p":"D2","cat":"EB","lo":0.256,"q1":0.256,"med":0.263,"q3":0.268,"hi":0.268},
    {"p":"D3","cat":"MB","lo":-0.448,"q1":-0.383,"med":-0.324,"q3":-0.152,"hi":0.113},
    {"p":"D3","cat":"EB","lo":-0.472,"q1":-0.434,"med":-0.331,"q3":-0.127,"hi":0.27}
  ],
  "cdout": [
    {"p":"C1","cat":"T3","v":-0.105},{"p":"C1","cat":"T3","v":-0.127},
    {"p":"D1","cat":"MNS","v":0.324},{"p":"D1","cat":"MNS","v":0.299},{"p":"D1","cat":"MNS","v":-0.077},{"p":"D1","cat":"MB","v":-0.249},
    {"p":"D2","cat":"MNS","v":0.299},{"p":"D2","cat":"MB","v":0.25},{"p":"D2","cat":"MB","v":0.221},{"p":"D2","cat":"MB","v":0.214},{"p":"D2","cat":"MB","v":0.07},{"p":"D2","cat":"MB","v":0.061},{"p":"D2","cat":"EB","v":0.285},{"p":"D2","cat":"EB","v":0.162},
    {"p":"D3","cat":"MB","v":0.27},{"p":"D3","cat":"MB","v":0.26},{"p":"D3","cat":"MB","v":0.218}
  ],
  "cdbr": [
    {"p":"C1","from":"T1","to":"T3","y":0.839,"yb":0.81,"mid":"T2","half":false,"lab":"0.026"},
    {"p":"C1","from":"T2","to":"T3","y":0.64,"yb":0.61,"mid":"T2","half":true,"lab":"0.66"},
    {"p":"C1","from":"T1","to":"T2","y":0.537,"yb":0.507,"mid":"T1","half":true,"lab":"0.0028"},
    {"p":"C2","from":"T1","to":"T3","y":0.839,"yb":0.81,"mid":"T2","half":false,"lab":"0.94"},
    {"p":"C2","from":"T2","to":"T3","y":0.64,"yb":0.61,"mid":"T2","half":true,"lab":"0.84"},
    {"p":"C2","from":"T1","to":"T2","y":0.537,"yb":0.507,"mid":"T1","half":true,"lab":"0.89"},
    {"p":"C3","from":"T1","to":"T3","y":0.94,"yb":0.91,"mid":"T2","half":true,"lab":"0.00092"},
    {"p":"C3","from":"T1","to":"T3","y":0.839,"yb":0.81,"mid":"T2","half":false,"lab":"0.12"},
    {"p":"C3","from":"T0","to":"T2","y":0.74,"yb":0.71,"mid":"T1","half":false,"lab":"0.0027"},
    {"p":"C3","from":"T2","to":"T3","y":0.64,"yb":0.61,"mid":"T2","half":true,"lab":"0.5"},
    {"p":"C3","from":"T1","to":"T2","y":0.537,"yb":0.507,"mid":"T1","half":true,"lab":"0.34"},
    {"p":"C3","from":"T0","to":"T1","y":0.436,"yb":0.406,"mid":"T0","half":true,"lab":"0.05"},
    {"p":"D1","from":"MNS","to":"MB","y":0.549,"yb":0.529,"mid":"MNS","half":true,"lab":"0.21"},
    {"p":"D1","from":"MNS","to":"EB","y":0.455,"yb":0.435,"mid":"MB","half":false,"lab":"0.11"},
    {"p":"D1","from":"MB","to":"EB","y":0.362,"yb":0.342,"mid":"MB","half":true,"lab":"0.64"},
    {"p":"D2","from":"MNS","to":"MB","y":0.549,"yb":0.529,"mid":"MNS","half":true,"lab":"p < 0.0001"},
    {"p":"D2","from":"MNS","to":"EB","y":0.455,"yb":0.435,"mid":"MB","half":false,"lab":"0.97"},
    {"p":"D2","from":"MB","to":"EB","y":0.362,"yb":0.342,"mid":"MB","half":true,"lab":"p < 0.0001"}
  ]
},
"concat": [
{
  "spacing": 0,
  "resolve": {"scale": {"fill": "independent"}, "legend": {"fill": "independent"}},
  "hconcat": [
  {"width": 1, "height": 1, "data": {"values": []}, "mark": {"type": "point", "opacity": 0}},
  {
  "title": {"text": "A", "anchor": "start", "frame": "bounds", "offset": -10, "fontSize": 22, "fontWeight": "normal", "color": "#000"},
  "spacing": 18,
  "resolve": {"scale": {"fill": "independent"}, "legend": {"fill": "independent"}},
  "hconcat": [
  {
    "width": 188, "height": 281,
    "layer": [
      {"data":{"name":"abox"},"transform":[{"filter":"datum.p=='A1'"}],"mark":{"type":"rule","color":"#333","strokeWidth":1.3},
       "encoding":{"x":{"field":"cat","type":"nominal","scale":{"domain":["T1 MNS","T1 MB","T2 MB","T3 MB","T1 EB","T2 EB","T3 EB"],"paddingInner":0,"paddingOuter":0.1},"axis":{"labelExpr":"split(datum.label, ' ')","labelColor":"#7BA332","titleColor":"#7BA332","title":"i. Mother Stool  (n = 44)","labelAngle":0,"labelLineHeight":12,"labelOverlap":false,"titleFontSize":14.5,"titlePadding":1}},
         "y":{"field":"lo","type":"quantitative","scale":{"domain":[2.44,9],"nice":false,"zero":false},"axis":{"values":[4,6,8],"title":"Alpha Diversity (Shannon Index)"}},"y2":{"field":"hi"}}},
      {"data":{"name":"abox"},"transform":[{"filter":"datum.p=='A1'"}],"mark":{"type":"bar","stroke":"#333","strokeWidth":1.5,"width":{"band":0.55}},
       "encoding":{"x":{"field":"cat","type":"nominal"},"y":{"field":"q1","type":"quantitative"},"y2":{"field":"q3"},"fill":{"field":"time","type":"nominal","scale":{"domain":["meconium","colostrum","transition milk","mature milk"],"range":["#E6D548","#6D95E0","#F26B3E","#35A58B"]},"legend":null}}},
      {"data":{"name":"abox"},"transform":[{"filter":"datum.p=='A1'"}],"mark":{"type":"bar","fillOpacity":0,"stroke":"#222","strokeWidth":2.5,"width":{"band":0.55}},
       "encoding":{"x":{"field":"cat","type":"nominal"},"y":{"field":"med","type":"quantitative"},"y2":{"field":"med"}}},
      {"data":{"name":"ajit"},"transform":[{"filter":"datum.p=='A1'"}],"mark":{"type":"point","filled":true,"color":"#7BA332","size":9,"opacity":1},
       "encoding":{"x":{"field":"cat","type":"nominal"},"xOffset":{"field":"j","type":"nominal","scale":{"domain":[-4,-3,-2,-1,0,1,2,3,4]}},"y":{"field":"v","type":"quantitative"}}},
      {"data":{"name":"abr"},"transform":[{"filter":"datum.p=='A1'"}],"mark":{"type":"rule","color":"#222","strokeWidth":1.2},
       "encoding":{"x":{"field":"from","type":"nominal"},"x2":{"field":"to"},"y":{"field":"y","type":"quantitative"}}},
      {"data":{"name":"abr"},"transform":[{"filter":"datum.p=='A1'"}],"mark":{"type":"rule","color":"#222","strokeWidth":1.2},
       "encoding":{"x":{"field":"from","type":"nominal"},"y":{"field":"y","type":"quantitative"},"y2":{"field":"yb"}}},
      {"data":{"name":"abr"},"transform":[{"filter":"datum.p=='A1'"}],"mark":{"type":"rule","color":"#222","strokeWidth":1.2},
       "encoding":{"x":{"field":"to","type":"nominal"},"y":{"field":"y","type":"quantitative"},"y2":{"field":"yb"}}},
      {"data":{"name":"abr"},"transform":[{"filter":"datum.p=='A1' && !datum.half"}],"mark":{"type":"text","fontSize":9,"baseline":"bottom","dy":-1,"color":"#222"},
       "encoding":{"x":{"field":"mid","type":"nominal"},"y":{"field":"y","type":"quantitative"},"text":{"field":"lab"}}},
      {"data":{"name":"abr"},"transform":[{"filter":"datum.p=='A1' && datum.half"}],"mark":{"type":"text","fontSize":9,"baseline":"bottom","dy":-1,"color":"#222"},
       "encoding":{"x":{"field":"mid","type":"nominal","bandPosition":1},"y":{"field":"y","type":"quantitative"},"text":{"field":"lab"}}},
      {"data":{"name":"akw"},"transform":[{"filter":"datum.p=='A1'"}],"mark":{"type":"text","fontSize":10,"color":"#222"},
       "encoding":{"x":{"field":"cat","type":"nominal","bandPosition":0.8},"y":{"field":"y","type":"quantitative"},"text":{"field":"lab"}}}
    ]
  },
  {
    "width": 190, "height": 281,
    "layer": [
      {"data":{"name":"abox"},"transform":[{"filter":"datum.p=='A2'"}],"mark":{"type":"rule","color":"#333","strokeWidth":1.3},
       "encoding":{"x":{"field":"cat","type":"nominal","scale":{"domain":["T1 MNS","T1 MB","T2 MB","T3 MB","T1 EB","T2 EB","T3 EB"],"paddingInner":0,"paddingOuter":0.1},"axis":{"labelExpr":"split(datum.label, ' ')","labelColor":"#4A6EB8","titleColor":"#4A6EB8","title":"ii. Mother Breast  Milk (n = 83)","labelAngle":0,"labelLineHeight":12,"labelOverlap":false,"titleFontSize":14.5,"titlePadding":1}},
         "y":{"field":"lo","type":"quantitative","scale":{"domain":[3.63,8.93],"nice":false,"zero":false},"axis":{"values":[4,5,6,7,8],"title":null}},"y2":{"field":"hi"}}},
      {"data":{"name":"abox"},"transform":[{"filter":"datum.p=='A2'"}],"mark":{"type":"bar","stroke":"#333","strokeWidth":1.5,"width":{"band":0.55}},
       "encoding":{"x":{"field":"cat","type":"nominal"},"y":{"field":"q1","type":"quantitative"},"y2":{"field":"q3"},"fill":{"field":"time","type":"nominal","scale":{"domain":["meconium","colostrum","transition milk","mature milk"],"range":["#E6D548","#6D95E0","#F26B3E","#35A58B"]},"legend":null}}},
      {"data":{"name":"abox"},"transform":[{"filter":"datum.p=='A2'"}],"mark":{"type":"bar","fillOpacity":0,"stroke":"#222","strokeWidth":2.5,"width":{"band":0.55}},
       "encoding":{"x":{"field":"cat","type":"nominal"},"y":{"field":"med","type":"quantitative"},"y2":{"field":"med"}}},
      {"data":{"name":"aout"},"transform":[{"filter":"datum.p=='A2'"}],"mark":{"type":"point","filled":true,"color":"#222","size":16,"opacity":1},
       "encoding":{"x":{"field":"cat","type":"nominal"},"y":{"field":"v","type":"quantitative"}}},
      {"data":{"name":"ajit"},"transform":[{"filter":"datum.p=='A2'"}],"mark":{"type":"point","filled":true,"color":"#4A6EB8","size":9,"opacity":1},
       "encoding":{"x":{"field":"cat","type":"nominal"},"xOffset":{"field":"j","type":"nominal","scale":{"domain":[-4,-3,-2,-1,0,1,2,3,4]}},"y":{"field":"v","type":"quantitative"}}},
      {"data":{"name":"abr"},"transform":[{"filter":"datum.p=='A2'"}],"mark":{"type":"rule","color":"#222","strokeWidth":1.2},
       "encoding":{"x":{"field":"from","type":"nominal"},"x2":{"field":"to"},"y":{"field":"y","type":"quantitative"}}},
      {"data":{"name":"abr"},"transform":[{"filter":"datum.p=='A2'"}],"mark":{"type":"rule","color":"#222","strokeWidth":1.2},
       "encoding":{"x":{"field":"from","type":"nominal"},"y":{"field":"y","type":"quantitative"},"y2":{"field":"yb"}}},
      {"data":{"name":"abr"},"transform":[{"filter":"datum.p=='A2'"}],"mark":{"type":"rule","color":"#222","strokeWidth":1.2},
       "encoding":{"x":{"field":"to","type":"nominal"},"y":{"field":"y","type":"quantitative"},"y2":{"field":"yb"}}},
      {"data":{"name":"abr"},"transform":[{"filter":"datum.p=='A2' && datum.half"}],"mark":{"type":"text","fontSize":9,"baseline":"bottom","dy":-1,"color":"#222"},
       "encoding":{"x":{"field":"mid","type":"nominal","bandPosition":1},"y":{"field":"y","type":"quantitative"},"text":{"field":"lab"}}},
      {"data":{"name":"akw"},"transform":[{"filter":"datum.p=='A2'"}],"mark":{"type":"text","fontSize":10,"color":"#222"},
       "encoding":{"x":{"field":"cat","type":"nominal","bandPosition":0.8},"y":{"field":"y","type":"quantitative"},"text":{"field":"lab"}}}
    ]
  },
  {
    "width": 190, "height": 281,
    "layer": [
      {"data":{"name":"abox"},"transform":[{"filter":"datum.p=='A3'"}],"mark":{"type":"rule","color":"#333","strokeWidth":1.3},
       "encoding":{"x":{"field":"cat","type":"nominal","scale":{"domain":["T0 MB","T1 MB","T2 MB","T3 MB","T0 EB","T1 EB","T2 EB","T3 EB"],"paddingInner":0,"paddingOuter":0.1},"axis":{"labelExpr":"split(datum.label, ' ')","labelColor":"#A0522D","titleColor":"#A0522D","title":"iii. Infant Stool (n = 89)","labelAngle":0,"labelLineHeight":12,"labelOverlap":false,"titleFontSize":14.5,"titlePadding":1}},
         "y":{"field":"lo","type":"quantitative","scale":{"domain":[-0.4,9.1],"nice":false,"zero":false},"axis":{"values":[0,2.5,5,7.5],"format":".1f","title":null}},"y2":{"field":"hi"}}},
      {"data":{"name":"abox"},"transform":[{"filter":"datum.p=='A3'"}],"mark":{"type":"bar","stroke":"#333","strokeWidth":1.5,"width":{"band":0.55}},
       "encoding":{"x":{"field":"cat","type":"nominal"},"y":{"field":"q1","type":"quantitative"},"y2":{"field":"q3"},"fill":{"field":"time","type":"nominal","scale":{"domain":["meconium","colostrum","transition milk","mature milk"],"range":["#E6D548","#6D95E0","#F26B3E","#35A58B"]},
         "legend":{"title":"Time","orient":"none","legendX":177,"legendY":40,"symbolType":"square","symbolSize":130,"symbolStrokeColor":"#333","symbolStrokeWidth":1.5,"labelFontSize":9.5,"titleFontSize":12.5,"titleFontWeight":"normal","titleColor":"#111","labelColor":"#111","rowPadding":5,"labelOffset":4}}}},
      {"data":{"name":"abox"},"transform":[{"filter":"datum.p=='A3'"}],"mark":{"type":"bar","fillOpacity":0,"stroke":"#222","strokeWidth":2.5,"width":{"band":0.55}},
       "encoding":{"x":{"field":"cat","type":"nominal"},"y":{"field":"med","type":"quantitative"},"y2":{"field":"med"}}},
      {"data":{"name":"aout"},"transform":[{"filter":"datum.p=='A3'"}],"mark":{"type":"point","filled":true,"color":"#222","size":16,"opacity":1},
       "encoding":{"x":{"field":"cat","type":"nominal"},"y":{"field":"v","type":"quantitative"}}},
      {"data":{"name":"ajit"},"transform":[{"filter":"datum.p=='A3'"}],"mark":{"type":"point","filled":true,"color":"#A0522D","size":9,"opacity":1},
       "encoding":{"x":{"field":"cat","type":"nominal"},"xOffset":{"field":"j","type":"nominal","scale":{"domain":[-4,-3,-2,-1,0,1,2,3,4]}},"y":{"field":"v","type":"quantitative"}}},
      {"data":{"name":"abr"},"transform":[{"filter":"datum.p=='A3'"}],"mark":{"type":"rule","color":"#222","strokeWidth":1.2},
       "encoding":{"x":{"field":"from","type":"nominal"},"x2":{"field":"to"},"y":{"field":"y","type":"quantitative"}}},
      {"data":{"name":"abr"},"transform":[{"filter":"datum.p=='A3'"}],"mark":{"type":"rule","color":"#222","strokeWidth":1.2},
       "encoding":{"x":{"field":"from","type":"nominal"},"y":{"field":"y","type":"quantitative"},"y2":{"field":"yb"}}},
      {"data":{"name":"abr"},"transform":[{"filter":"datum.p=='A3'"}],"mark":{"type":"rule","color":"#222","strokeWidth":1.2},
       "encoding":{"x":{"field":"to","type":"nominal"},"y":{"field":"y","type":"quantitative"},"y2":{"field":"yb"}}},
      {"data":{"name":"abr"},"transform":[{"filter":"datum.p=='A3' && !datum.half"}],"mark":{"type":"text","fontSize":9,"baseline":"bottom","dy":-1,"color":"#222"},
       "encoding":{"x":{"field":"mid","type":"nominal"},"y":{"field":"y","type":"quantitative"},"text":{"field":"lab"}}},
      {"data":{"name":"akw"},"transform":[{"filter":"datum.p=='A3'"}],"mark":{"type":"text","fontSize":10,"color":"#222"},
       "encoding":{"x":{"field":"cat","type":"nominal","bandPosition":0.8},"y":{"field":"y","type":"quantitative"},"text":{"field":"lab"}}}
    ]
  }
  ]
  }
  ]
},
{
  "spacing": 0,
  "resolve": {"scale": {"color": "independent", "shape": "independent", "size": "independent"}, "legend": {"color": "independent", "shape": "independent", "size": "independent"}},
  "hconcat": [
  {"width": 1, "height": 1, "data": {"values": []}, "mark": {"type": "point", "opacity": 0}},
  {
  "width": 512, "height": 208,
  "title": {"text": "B", "anchor": "start", "frame": "bounds", "offset": -14, "dx": -16, "fontSize": 22, "fontWeight": "normal", "color": "#000"},
  "layer": [
    {"data":{"name":"pts"},"mark":{"type":"point","filled":true,"opacity":0.72},
     "encoding":{
       "x":{"field":"x","type":"quantitative","scale":{"domain":[-0.526,0.414],"nice":false,"zero":false},"axis":{"values":[-0.5,-0.25,0,0.25],"format":".2f","title":"PCo 1 (28.6%)","titleFontSize":14,"titlePadding":2}},
       "y":{"field":"y","type":"quantitative","scale":{"domain":[-0.508,0.361],"nice":false,"zero":false},"axis":{"values":[-0.4,-0.2,0,0.2],"format":".1f","title":"PCo 2 (23.22%)","titleFontSize":14}},
       "color":{"field":"g","type":"nominal","scale":{"domain":["Infant Stool","Mother Breast  Milk","Mother Stool"],"range":["#A0522D","#4A6EB8","#7BA332"]},"legend":{"title":null,"orient":"top","direction":"horizontal","symbolType":"circle","symbolSize":16,"labelFontSize":12.5,"labelColor":"#111","offset":6,"columnPadding":4}},
       "shape":{"field":"s","type":"nominal","scale":{"domain":["MNS","MB","EB"],"range":["circle","triangle-up","square"]},"legend":{"title":null,"orient":"top","direction":"horizontal","symbolFillColor":"#333","symbolStrokeColor":"#333","symbolSize":16,"labelFontSize":12.5,"labelColor":"#111","offset":6,"columnPadding":4}},
       "size":{"field":"t","type":"ordinal","scale":{"domain":["T0","T1","T2","T3"],"range":[16,55,110,180]},"legend":{"title":null,"orient":"top","direction":"horizontal","symbolFillColor":"#333","symbolStrokeColor":"#333","labelFontSize":12.5,"labelColor":"#111","offset":6,"columnPadding":4}}
     }},
    {"data":{"name":"hull"},"mark":{"type":"line","strokeWidth":1.1},
     "encoding":{"x":{"field":"x","type":"quantitative"},"y":{"field":"y","type":"quantitative"},"color":{"field":"g","type":"nominal"},"order":{"field":"o","type":"quantitative"}}},
    {"data":{"name":"ann"},"mark":{"type":"text","align":"left","fontSize":8.8},
     "encoding":{"x":{"field":"x","type":"quantitative"},"y":{"field":"y","type":"quantitative"},"text":{"field":"lab"},"color":{"field":"g","type":"nominal"}}}
  ]
  }
  ]
},
{
  "spacing": 0,
  "resolve": {"scale": {"fill": "independent"}, "legend": {"fill": "independent"}},
  "hconcat": [
  {"width": 1, "height": 1, "data": {"values": []}, "mark": {"type": "point", "opacity": 0}},
  {
  "spacing": 35,
  "resolve": {"scale": {"fill": "independent"}, "legend": {"fill": "independent"}},
  "hconcat": [
  {
    "title": {"text": "C", "anchor": "start", "frame": "bounds", "offset": -18, "fontSize": 22, "fontWeight": "normal", "color": "#000", "subtitle": ""},
    "spacing": 2,
    "bounds": "flush",
    "hconcat": [
    {
      "width": 90, "height": 261,
      "title": {"text": "Mother Stool", "subtitle": "Kruskal-Wallis, p = 0.0054", "dx": 9},
      "layer": [
        {"data":{"name":"cdbox"},"transform":[{"filter":"datum.p=='C1'"}],"mark":{"type":"rule","color":"#111","strokeWidth":1.4},
         "encoding":{"x":{"field":"cat","type":"nominal","scale":{"domain":["T1","T2","T3"],"paddingInner":0,"paddingOuter":0.1},"axis":{"title":null,"labelAngle":0,"labelColor":"#111"}},
           "y":{"field":"lo","type":"quantitative","scale":{"domain":[-0.51,1.0],"nice":false,"zero":false},"axis":{"values":[-0.5,0,0.5,1],"format":".1f","title":"PCo 1 (28.6%)","titlePadding":1}},"y2":{"field":"hi"}}},
        {"data":{"name":"cdbox"},"transform":[{"filter":"datum.p=='C1'"}],"mark":{"type":"bar","stroke":"#111","strokeWidth":1.5,"width":{"band":0.5}},
         "encoding":{"x":{"field":"cat","type":"nominal"},"y":{"field":"q1","type":"quantitative"},"y2":{"field":"q3"},"fill":{"field":"cat","type":"nominal","scale":{"domain":["T0","T1","T2","T3"],"range":["#EEE27A","#A1BBEA","#F0967B","#72C5B2"]},"legend":null}}},
        {"data":{"name":"cdbox"},"transform":[{"filter":"datum.p=='C1'"}],"mark":{"type":"bar","fillOpacity":0,"stroke":"#000","strokeWidth":2.8,"width":{"band":0.5}},
         "encoding":{"x":{"field":"cat","type":"nominal"},"y":{"field":"med","type":"quantitative"},"y2":{"field":"med"}}},
        {"data":{"name":"cdout"},"transform":[{"filter":"datum.p=='C1'"}],"mark":{"type":"point","filled":true,"color":"#333","size":12,"opacity":1},
         "encoding":{"x":{"field":"cat","type":"nominal"},"y":{"field":"v","type":"quantitative"}}},
        {"data":{"name":"cdbr"},"transform":[{"filter":"datum.p=='C1'"}],"mark":{"type":"rule","color":"#8c8c8c","strokeWidth":1},
         "encoding":{"x":{"field":"from","type":"nominal"},"x2":{"field":"to"},"y":{"field":"y","type":"quantitative"}}},
        {"data":{"name":"cdbr"},"transform":[{"filter":"datum.p=='C1'"}],"mark":{"type":"rule","color":"#8c8c8c","strokeWidth":1},
         "encoding":{"x":{"field":"from","type":"nominal"},"y":{"field":"y","type":"quantitative"},"y2":{"field":"yb"}}},
        {"data":{"name":"cdbr"},"transform":[{"filter":"datum.p=='C1'"}],"mark":{"type":"rule","color":"#8c8c8c","strokeWidth":1},
         "encoding":{"x":{"field":"to","type":"nominal"},"y":{"field":"y","type":"quantitative"},"y2":{"field":"yb"}}},
        {"data":{"name":"cdbr"},"transform":[{"filter":"datum.p=='C1' && !datum.half"}],"mark":{"type":"text","fontSize":8,"baseline":"bottom","dy":-1,"color":"#222"},
         "encoding":{"x":{"field":"mid","type":"nominal"},"y":{"field":"y","type":"quantitative"},"text":{"field":"lab"}}},
        {"data":{"name":"cdbr"},"transform":[{"filter":"datum.p=='C1' && datum.half"}],"mark":{"type":"text","fontSize":8,"baseline":"bottom","dy":-1,"color":"#222"},
         "encoding":{"x":{"field":"mid","type":"nominal","bandPosition":1},"y":{"field":"y","type":"quantitative"},"text":{"field":"lab"}}}
      ]
    },
    {
      "width": 90, "height": 261,
      "title": {"text": "Mother Breast  Milk", "subtitle": "Kruskal-Wallis, p = 0.98", "dx": 9},
      "layer": [
        {"data":{"name":"cdbox"},"transform":[{"filter":"datum.p=='C2'"}],"mark":{"type":"rule","color":"#111","strokeWidth":1.4},
         "encoding":{"x":{"field":"cat","type":"nominal","scale":{"domain":["T1","T2","T3"],"paddingInner":0,"paddingOuter":0.1},"axis":{"title":null,"labelAngle":0,"labelColor":"#111"}},
           "y":{"field":"lo","type":"quantitative","scale":{"domain":[-0.51,1.0],"nice":false,"zero":false},"axis":null},"y2":{"field":"hi"}}},
        {"data":{"name":"cdbox"},"transform":[{"filter":"datum.p=='C2'"}],"mark":{"type":"bar","stroke":"#111","strokeWidth":1.5,"width":{"band":0.5}},
         "encoding":{"x":{"field":"cat","type":"nominal"},"y":{"field":"q1","type":"quantitative","axis":null},"y2":{"field":"q3"},"fill":{"field":"cat","type":"nominal","scale":{"domain":["T0","T1","T2","T3"],"range":["#EEE27A","#A1BBEA","#F0967B","#72C5B2"]},"legend":null}}},
        {"data":{"name":"cdbox"},"transform":[{"filter":"datum.p=='C2'"}],"mark":{"type":"bar","fillOpacity":0,"stroke":"#000","strokeWidth":2.8,"width":{"band":0.5}},
         "encoding":{"x":{"field":"cat","type":"nominal"},"y":{"field":"med","type":"quantitative","axis":null},"y2":{"field":"med"}}},
        {"data":{"name":"cdbr"},"transform":[{"filter":"datum.p=='C2'"}],"mark":{"type":"rule","color":"#8c8c8c","strokeWidth":1},
         "encoding":{"x":{"field":"from","type":"nominal"},"x2":{"field":"to"},"y":{"field":"y","type":"quantitative","axis":null}}},
        {"data":{"name":"cdbr"},"transform":[{"filter":"datum.p=='C2'"}],"mark":{"type":"rule","color":"#8c8c8c","strokeWidth":1},
         "encoding":{"x":{"field":"from","type":"nominal"},"y":{"field":"y","type":"quantitative","axis":null},"y2":{"field":"yb"}}},
        {"data":{"name":"cdbr"},"transform":[{"filter":"datum.p=='C2'"}],"mark":{"type":"rule","color":"#8c8c8c","strokeWidth":1},
         "encoding":{"x":{"field":"to","type":"nominal"},"y":{"field":"y","type":"quantitative","axis":null},"y2":{"field":"yb"}}},
        {"data":{"name":"cdbr"},"transform":[{"filter":"datum.p=='C2' && !datum.half"}],"mark":{"type":"text","fontSize":8,"baseline":"bottom","dy":-1,"color":"#222"},
         "encoding":{"x":{"field":"mid","type":"nominal"},"y":{"field":"y","type":"quantitative","axis":null},"text":{"field":"lab"}}},
        {"data":{"name":"cdbr"},"transform":[{"filter":"datum.p=='C2' && datum.half"}],"mark":{"type":"text","fontSize":8,"baseline":"bottom","dy":-1,"color":"#222"},
         "encoding":{"x":{"field":"mid","type":"nominal","bandPosition":1},"y":{"field":"y","type":"quantitative","axis":null},"text":{"field":"lab"}}}
      ]
    },
    {
      "width": 118, "height": 261,
      "title": {"text": "Infant Stool", "subtitle": "Kruskal-Wallis, p = 0.0058", "dx": 9},
      "layer": [
        {"data":{"name":"cdbox"},"transform":[{"filter":"datum.p=='C3'"}],"mark":{"type":"rule","color":"#111","strokeWidth":1.4},
         "encoding":{"x":{"field":"cat","type":"nominal","scale":{"domain":["T0","T1","T2","T3"],"paddingInner":0,"paddingOuter":0.1},"axis":{"title":null,"labelAngle":0,"labelColor":"#111"}},
           "y":{"field":"lo","type":"quantitative","scale":{"domain":[-0.51,1.0],"nice":false,"zero":false},"axis":null},"y2":{"field":"hi"}}},
        {"data":{"name":"cdbox"},"transform":[{"filter":"datum.p=='C3'"}],"mark":{"type":"bar","stroke":"#111","strokeWidth":1.5,"width":{"band":0.5}},
         "encoding":{"x":{"field":"cat","type":"nominal"},"y":{"field":"q1","type":"quantitative","axis":null},"y2":{"field":"q3"},"fill":{"field":"cat","type":"nominal","scale":{"domain":["T0","T1","T2","T3"],"range":["#EEE27A","#A1BBEA","#F0967B","#72C5B2"]},"legend":null}}},
        {"data":{"name":"cdbox"},"transform":[{"filter":"datum.p=='C3'"}],"mark":{"type":"bar","fillOpacity":0,"stroke":"#000","strokeWidth":2.8,"width":{"band":0.5}},
         "encoding":{"x":{"field":"cat","type":"nominal"},"y":{"field":"med","type":"quantitative","axis":null},"y2":{"field":"med"}}},
        {"data":{"name":"cdbr"},"transform":[{"filter":"datum.p=='C3'"}],"mark":{"type":"rule","color":"#8c8c8c","strokeWidth":1},
         "encoding":{"x":{"field":"from","type":"nominal"},"x2":{"field":"to"},"y":{"field":"y","type":"quantitative","axis":null}}},
        {"data":{"name":"cdbr"},"transform":[{"filter":"datum.p=='C3'"}],"mark":{"type":"rule","color":"#8c8c8c","strokeWidth":1},
         "encoding":{"x":{"field":"from","type":"nominal"},"y":{"field":"y","type":"quantitative","axis":null},"y2":{"field":"yb"}}},
        {"data":{"name":"cdbr"},"transform":[{"filter":"datum.p=='C3'"}],"mark":{"type":"rule","color":"#8c8c8c","strokeWidth":1},
         "encoding":{"x":{"field":"to","type":"nominal"},"y":{"field":"y","type":"quantitative","axis":null},"y2":{"field":"yb"}}},
        {"data":{"name":"cdbr"},"transform":[{"filter":"datum.p=='C3' && !datum.half"}],"mark":{"type":"text","fontSize":8,"baseline":"bottom","dy":-1,"color":"#222"},
         "encoding":{"x":{"field":"mid","type":"nominal"},"y":{"field":"y","type":"quantitative","axis":null},"text":{"field":"lab"}}},
        {"data":{"name":"cdbr"},"transform":[{"filter":"datum.p=='C3' && datum.half"}],"mark":{"type":"text","fontSize":8,"baseline":"bottom","dy":-1,"color":"#222"},
         "encoding":{"x":{"field":"mid","type":"nominal","bandPosition":1},"y":{"field":"y","type":"quantitative","axis":null},"text":{"field":"lab"}}}
      ]
    }
    ]
  },
  {
    "title": {"text": "D", "anchor": "start", "frame": "bounds", "offset": -18, "dx": 8, "fontSize": 22, "fontWeight": "normal", "color": "#000", "subtitle": ""},
    "spacing": 4,
    "bounds": "flush",
    "hconcat": [
    {
      "width": 114, "height": 261,
      "title": {"text": "Mother Stool", "subtitle": "Kruskal-Wallis, p = 0.23", "dx": -6},
      "layer": [
        {"data":{"name":"cdbox"},"transform":[{"filter":"datum.p=='D1'"}],"mark":{"type":"rule","color":"#111","strokeWidth":1.4},
         "encoding":{"x":{"field":"cat","type":"nominal","scale":{"domain":["MNS","MB","EB"],"paddingInner":0,"paddingOuter":0.1},"axis":{"title":null,"labelAngle":0,"labelColor":"#111"}},
           "y":{"field":"lo","type":"quantitative","scale":{"domain":[-0.525,0.61],"nice":false,"zero":false},"axis":{"values":[-0.5,-0.25,0,0.25,0.5],"format":".2f","title":"PCo 2 (23.22%)","titlePadding":1}},"y2":{"field":"hi"}}},
        {"data":{"name":"cdbox"},"transform":[{"filter":"datum.p=='D1'"}],"mark":{"type":"bar","stroke":"#111","strokeWidth":1.5,"width":{"band":0.5}},
         "encoding":{"x":{"field":"cat","type":"nominal"},"y":{"field":"q1","type":"quantitative"},"y2":{"field":"q3"},"fill":{"field":"cat","type":"nominal","scale":{"domain":["MNS","MB","EB"],"range":["#6CC9A8","#F4ADDA","#A9E7F6"]},"legend":null}}},
        {"data":{"name":"cdbox"},"transform":[{"filter":"datum.p=='D1'"}],"mark":{"type":"bar","fillOpacity":0,"stroke":"#000","strokeWidth":2.8,"width":{"band":0.5}},
         "encoding":{"x":{"field":"cat","type":"nominal"},"y":{"field":"med","type":"quantitative"},"y2":{"field":"med"}}},
        {"data":{"name":"cdout"},"transform":[{"filter":"datum.p=='D1'"}],"mark":{"type":"point","filled":true,"color":"#333","size":12,"opacity":1},
         "encoding":{"x":{"field":"cat","type":"nominal"},"y":{"field":"v","type":"quantitative"}}},
        {"data":{"name":"cdbr"},"transform":[{"filter":"datum.p=='D1'"}],"mark":{"type":"rule","color":"#8c8c8c","strokeWidth":1},
         "encoding":{"x":{"field":"from","type":"nominal"},"x2":{"field":"to"},"y":{"field":"y","type":"quantitative"}}},
        {"data":{"name":"cdbr"},"transform":[{"filter":"datum.p=='D1'"}],"mark":{"type":"rule","color":"#8c8c8c","strokeWidth":1},
         "encoding":{"x":{"field":"from","type":"nominal"},"y":{"field":"y","type":"quantitative"},"y2":{"field":"yb"}}},
        {"data":{"name":"cdbr"},"transform":[{"filter":"datum.p=='D1'"}],"mark":{"type":"rule","color":"#8c8c8c","strokeWidth":1},
         "encoding":{"x":{"field":"to","type":"nominal"},"y":{"field":"y","type":"quantitative"},"y2":{"field":"yb"}}},
        {"data":{"name":"cdbr"},"transform":[{"filter":"datum.p=='D1' && !datum.half"}],"mark":{"type":"text","fontSize":8,"baseline":"bottom","dy":-1,"color":"#222"},
         "encoding":{"x":{"field":"mid","type":"nominal"},"y":{"field":"y","type":"quantitative"},"text":{"field":"lab"}}},
        {"data":{"name":"cdbr"},"transform":[{"filter":"datum.p=='D1' && datum.half"}],"mark":{"type":"text","fontSize":8,"baseline":"bottom","dy":-1,"color":"#222"},
         "encoding":{"x":{"field":"mid","type":"nominal","bandPosition":1},"y":{"field":"y","type":"quantitative"},"text":{"field":"lab"}}}
      ]
    },
    {
      "width": 114, "height": 261,
      "title": {"text": "Mother Breast  Milk", "subtitle": "Kruskal-Wallis,  p < 0.0001", "dx": -6},
      "layer": [
        {"data":{"name":"cdbox"},"transform":[{"filter":"datum.p=='D2'"}],"mark":{"type":"rule","color":"#111","strokeWidth":1.4},
         "encoding":{"x":{"field":"cat","type":"nominal","scale":{"domain":["MNS","MB","EB"],"paddingInner":0,"paddingOuter":0.1},"axis":{"title":null,"labelAngle":0,"labelColor":"#111"}},
           "y":{"field":"lo","type":"quantitative","scale":{"domain":[-0.525,0.61],"nice":false,"zero":false},"axis":null},"y2":{"field":"hi"}}},
        {"data":{"name":"cdbox"},"transform":[{"filter":"datum.p=='D2'"}],"mark":{"type":"bar","stroke":"#111","strokeWidth":1.5,"width":{"band":0.5}},
         "encoding":{"x":{"field":"cat","type":"nominal"},"y":{"field":"q1","type":"quantitative","axis":null},"y2":{"field":"q3"},"fill":{"field":"cat","type":"nominal","scale":{"domain":["MNS","MB","EB"],"range":["#6CC9A8","#F4ADDA","#A9E7F6"]},"legend":null}}},
        {"data":{"name":"cdbox"},"transform":[{"filter":"datum.p=='D2'"}],"mark":{"type":"bar","fillOpacity":0,"stroke":"#000","strokeWidth":2.8,"width":{"band":0.5}},
         "encoding":{"x":{"field":"cat","type":"nominal"},"y":{"field":"med","type":"quantitative","axis":null},"y2":{"field":"med"}}},
        {"data":{"name":"cdout"},"transform":[{"filter":"datum.p=='D2'"}],"mark":{"type":"point","filled":true,"color":"#333","size":12,"opacity":1},
         "encoding":{"x":{"field":"cat","type":"nominal"},"y":{"field":"v","type":"quantitative","axis":null}}},
        {"data":{"name":"cdbr"},"transform":[{"filter":"datum.p=='D2'"}],"mark":{"type":"rule","color":"#8c8c8c","strokeWidth":1},
         "encoding":{"x":{"field":"from","type":"nominal"},"x2":{"field":"to"},"y":{"field":"y","type":"quantitative","axis":null}}},
        {"data":{"name":"cdbr"},"transform":[{"filter":"datum.p=='D2'"}],"mark":{"type":"rule","color":"#8c8c8c","strokeWidth":1},
         "encoding":{"x":{"field":"from","type":"nominal"},"y":{"field":"y","type":"quantitative","axis":null},"y2":{"field":"yb"}}},
        {"data":{"name":"cdbr"},"transform":[{"filter":"datum.p=='D2'"}],"mark":{"type":"rule","color":"#8c8c8c","strokeWidth":1},
         "encoding":{"x":{"field":"to","type":"nominal"},"y":{"field":"y","type":"quantitative","axis":null},"y2":{"field":"yb"}}},
        {"data":{"name":"cdbr"},"transform":[{"filter":"datum.p=='D2' && !datum.half"}],"mark":{"type":"text","fontSize":8,"baseline":"bottom","dy":-1,"color":"#222"},
         "encoding":{"x":{"field":"mid","type":"nominal"},"y":{"field":"y","type":"quantitative","axis":null},"text":{"field":"lab"}}},
        {"data":{"name":"cdbr"},"transform":[{"filter":"datum.p=='D2' && datum.half"}],"mark":{"type":"text","fontSize":8,"baseline":"bottom","dy":-1,"color":"#222"},
         "encoding":{"x":{"field":"mid","type":"nominal","bandPosition":1},"y":{"field":"y","type":"quantitative","axis":null},"text":{"field":"lab"}}}
      ]
    },
    {
      "width": 80, "height": 261,
      "title": {"text": "Infant Stool", "subtitle": "Kruskal-Wallis, p = 0.41", "dx": -4},
      "layer": [
        {"data":{"name":"cdbox"},"transform":[{"filter":"datum.p=='D3'"}],"mark":{"type":"rule","color":"#111","strokeWidth":1.4},
         "encoding":{"x":{"field":"cat","type":"nominal","scale":{"domain":["MB","EB"],"paddingInner":0,"paddingOuter":0.1},"axis":{"title":null,"labelAngle":0,"labelColor":"#111"}},
           "y":{"field":"lo","type":"quantitative","scale":{"domain":[-0.525,0.61],"nice":false,"zero":false},"axis":null},"y2":{"field":"hi"}}},
        {"data":{"name":"cdbox"},"transform":[{"filter":"datum.p=='D3'"}],"mark":{"type":"bar","stroke":"#111","strokeWidth":1.5,"width":{"band":0.5}},
         "encoding":{"x":{"field":"cat","type":"nominal"},"y":{"field":"q1","type":"quantitative","axis":null},"y2":{"field":"q3"},"fill":{"field":"cat","type":"nominal","scale":{"domain":["MNS","MB","EB"],"range":["#6CC9A8","#F4ADDA","#A9E7F6"]},"legend":null}}},
        {"data":{"name":"cdbox"},"transform":[{"filter":"datum.p=='D3'"}],"mark":{"type":"bar","fillOpacity":0,"stroke":"#000","strokeWidth":2.8,"width":{"band":0.5}},
         "encoding":{"x":{"field":"cat","type":"nominal"},"y":{"field":"med","type":"quantitative","axis":null},"y2":{"field":"med"}}},
        {"data":{"name":"cdout"},"transform":[{"filter":"datum.p=='D3'"}],"mark":{"type":"point","filled":true,"color":"#333","size":12,"opacity":1},
         "encoding":{"x":{"field":"cat","type":"nominal"},"y":{"field":"v","type":"quantitative","axis":null}}}
      ]
    }
    ]
  }
  ]
  }
  ]
}
]
}
